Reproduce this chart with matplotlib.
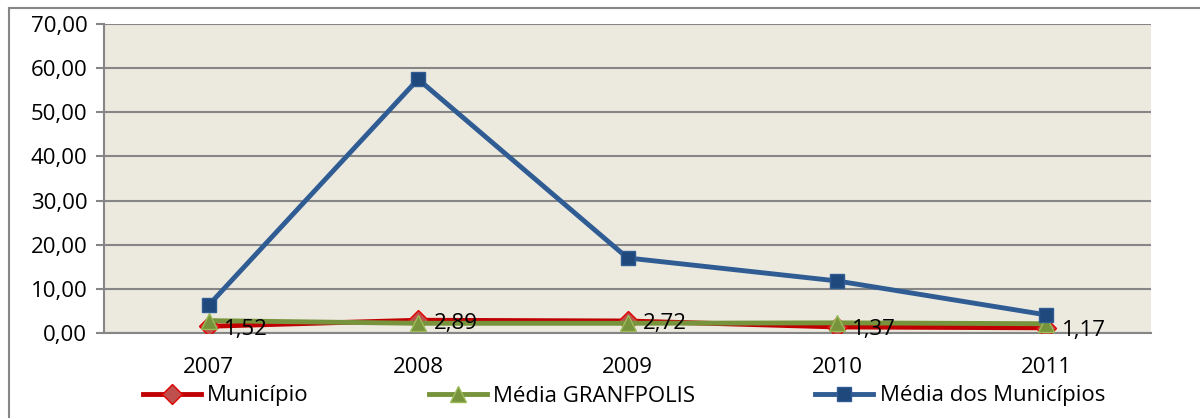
import matplotlib
matplotlib.use("Agg")
import matplotlib.pyplot as plt
from matplotlib.lines import Line2D

years = ["2007", "2008", "2009", "2010", "2011"]
municipio = [1.52, 2.89, 2.72, 1.37, 1.17]
media_granfpolis = [2.8, 2.2, 2.2, 2.3, 2.1]
media_municipios = [6.3, 57.5, 17.0, 11.8, 4.1]
yticks = [0, 10, 20, 30, 40, 50, 60, 70]

plt.rcParams['font.family'] = ['Open Sans', 'DejaVu Sans']

W, H = 1200, 418
FS = 16
fig = plt.figure(figsize=(W/100, H/100), dpi=100)
ax = fig.add_axes([104/W, 1-333/H, (1151-104)/W, (333-24)/H])
ax.set_facecolor('#ECE9DF')

x = list(range(len(years)))
ax.plot(x, municipio, color='#C00000', lw=3.5, marker='D', ms=10,
        mfc='#C0504D', mec='#E00000', mew=1, zorder=3, label='Município')
ax.plot(x, media_granfpolis, color='#77933C', lw=3.5, marker='^', ms=11,
        mfc='#77933C', mec='#9BBB59', mew=1, zorder=4, label='Média GRANFPOLIS')
ax.plot(x, media_municipios, color='#2F5C93', lw=3.5, marker='s', ms=10,
        mfc='#1F497D', mec='#2F5C93', mew=1, zorder=5, label='Média dos Municípios')

for xi, v in zip(x, municipio):
    ax.annotate(f"{v:.2f}".replace('.', ','), (xi, v), xytext=(11, -2),
                textcoords='offset points', ha='left', va='center', fontsize=FS, zorder=6)

ax.set_xlim(-0.5, len(years)-0.5)
ax.set_ylim(0, 70)
ax.set_yticks(yticks)
ax.set_yticklabels([f"{t:.2f}".replace('.', ',') for t in yticks], fontsize=FS)
ax.set_xticks(x)
ax.set_xticklabels(years, fontsize=FS)
ax.tick_params(axis='x', length=0, pad=17)
ax.tick_params(axis='y', length=6, color='#868686', width=1.5, pad=6)
ax.grid(axis='y', color='#868686', lw=1.5)
ax.set_axisbelow(True)
for s in ['top', 'right']:
    ax.spines[s].set_visible(False)
for s in ['left', 'bottom']:
    ax.spines[s].set_color('#868686')
    ax.spines[s].set_linewidth(1.5)

handles = [
    Line2D([], [], color='#C00000', lw=3.5, marker='D', ms=10, mfc='#C0504D', mec='#E00000'),
    Line2D([], [], color='#77933C', lw=3.5, marker='^', ms=11, mfc='#77933C', mec='#9BBB59'),
    Line2D([], [], color='#2F5C93', lw=3.5, marker='s', ms=10, mfc='#1F497D', mec='#2F5C93'),
]
fig.legend(handles, ['Município', 'Média GRANFPOLIS', 'Média dos Municípios'],
           loc='center', bbox_to_anchor=(0.52, 1-396/H), ncol=3, frameon=False,
           fontsize=FS, handlelength=2.6, handletextpad=0.3, columnspacing=5.4)

# outer chart border (left and top)
fig.add_artist(Line2D([9/W, 9/W], [0, 1-8/H], color='#868686', lw=1.5, transform=fig.transFigure))
fig.add_artist(Line2D([9/W, 1], [1-8/H, 1-8/H], color='#868686', lw=1.5, transform=fig.transFigure))

fig.savefig('out.png', dpi=100)
